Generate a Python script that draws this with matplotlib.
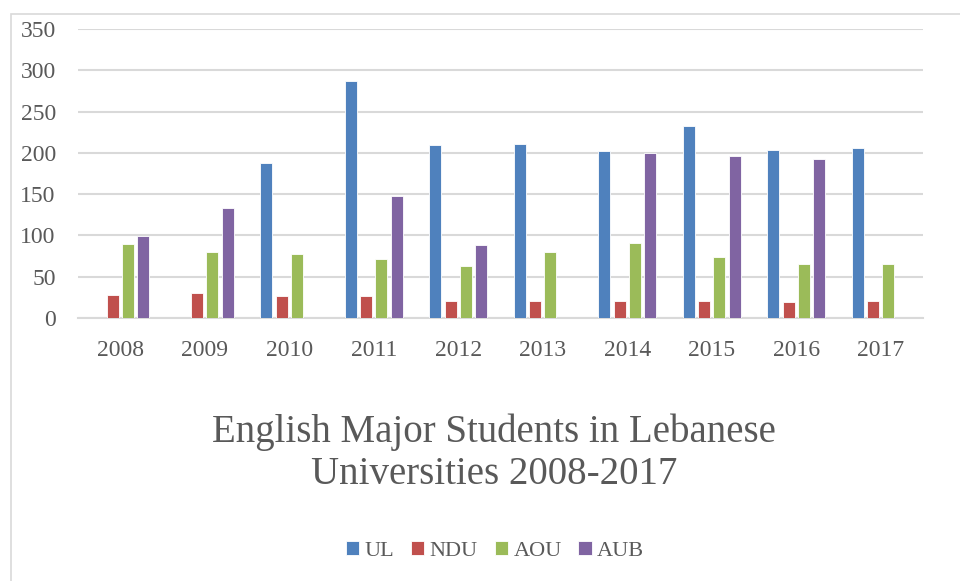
import matplotlib
matplotlib.use("Agg")
import matplotlib.pyplot as plt
from matplotlib.patches import Rectangle
import numpy as np

years = ["2008", "2009", "2010", "2011", "2012", "2013", "2014", "2015", "2016", "2017"]
ul = [0, 0, 188, 287, 209, 211, 202, 232, 203, 206]
ndu = [28, 30, 27, 27, 20, 20, 20, 20, 19, 21]
aou = [90, 80, 78, 72, 63, 80, 91, 74, 66, 65]
aub = [99, 133, 0, 148, 89, 0, 200, 196, 193, 0]
series = {"UL": ul, "NDU": ndu, "AOU": aou, "AUB": aub}
colors = ["#4F81BD", "#C0504D", "#9BBB59", "#8064A2"]
yticks = [0, 50, 100, 150, 200, 250, 300, 350]

plt.rcParams['font.family'] = ['Liberation Serif', 'DejaVu Serif']
txt = "#595959"

fig = plt.figure(figsize=(9.6, 5.81), dpi=100)
fig.patches.append(Rectangle((11/960, -0.01), 1.0, 1 - 14/581 + 0.01, transform=fig.transFigure,
                             fill=False, edgecolor="#D9D9D9", linewidth=1.2))
ax = fig.add_axes([78/960, 1 - 318/581, (923 - 78)/960, (318 - 29)/581])

x = np.arange(len(years))
pitch = 0.181
width = 0.142
for i, (name, vals) in enumerate(series.items()):
    off = (i - 1.5) * pitch
    ax.bar(x + off, vals, width=width, color=colors[i], edgecolor="white", linewidth=0.6,
           label=name, zorder=3)

ax.set_xlim(-0.5, len(years) - 0.5)
ax.set_ylim(0, 350)
ax.set_yticks(yticks)
ax.set_yticklabels([str(v) for v in yticks])
ax.set_xticks(x)
ax.set_xticklabels(years)
ax.yaxis.grid(True, color="#D9D9D9", linewidth=1.5, zorder=0)
ax.set_axisbelow(True)
for s in ["top", "right", "left"]:
    ax.spines[s].set_visible(False)
ax.spines["bottom"].set_color("#D9D9D9")
ax.spines["bottom"].set_linewidth(1.5)
ax.tick_params(axis="both", length=0, labelsize=17, colors=txt)
ax.tick_params(axis="y", pad=16)
ax.tick_params(axis="x", pad=16)

fig.text(494/960, 1 - 453/581, "English Major Students in Lebanese\nUniversities 2008-2017",
         ha="center", va="center", fontsize=28, color=txt, linespacing=1.17)

handles, labels = ax.get_legend_handles_labels()
fig.legend(handles, labels, loc="center", bbox_to_anchor=(495/960, 1 - 551/581), ncol=4,
           frameon=False, fontsize=16, labelcolor=txt, handlelength=0.6, handleheight=0.6,
           handletextpad=0.25, columnspacing=0.75)

fig.savefig("out.png", dpi=100)
